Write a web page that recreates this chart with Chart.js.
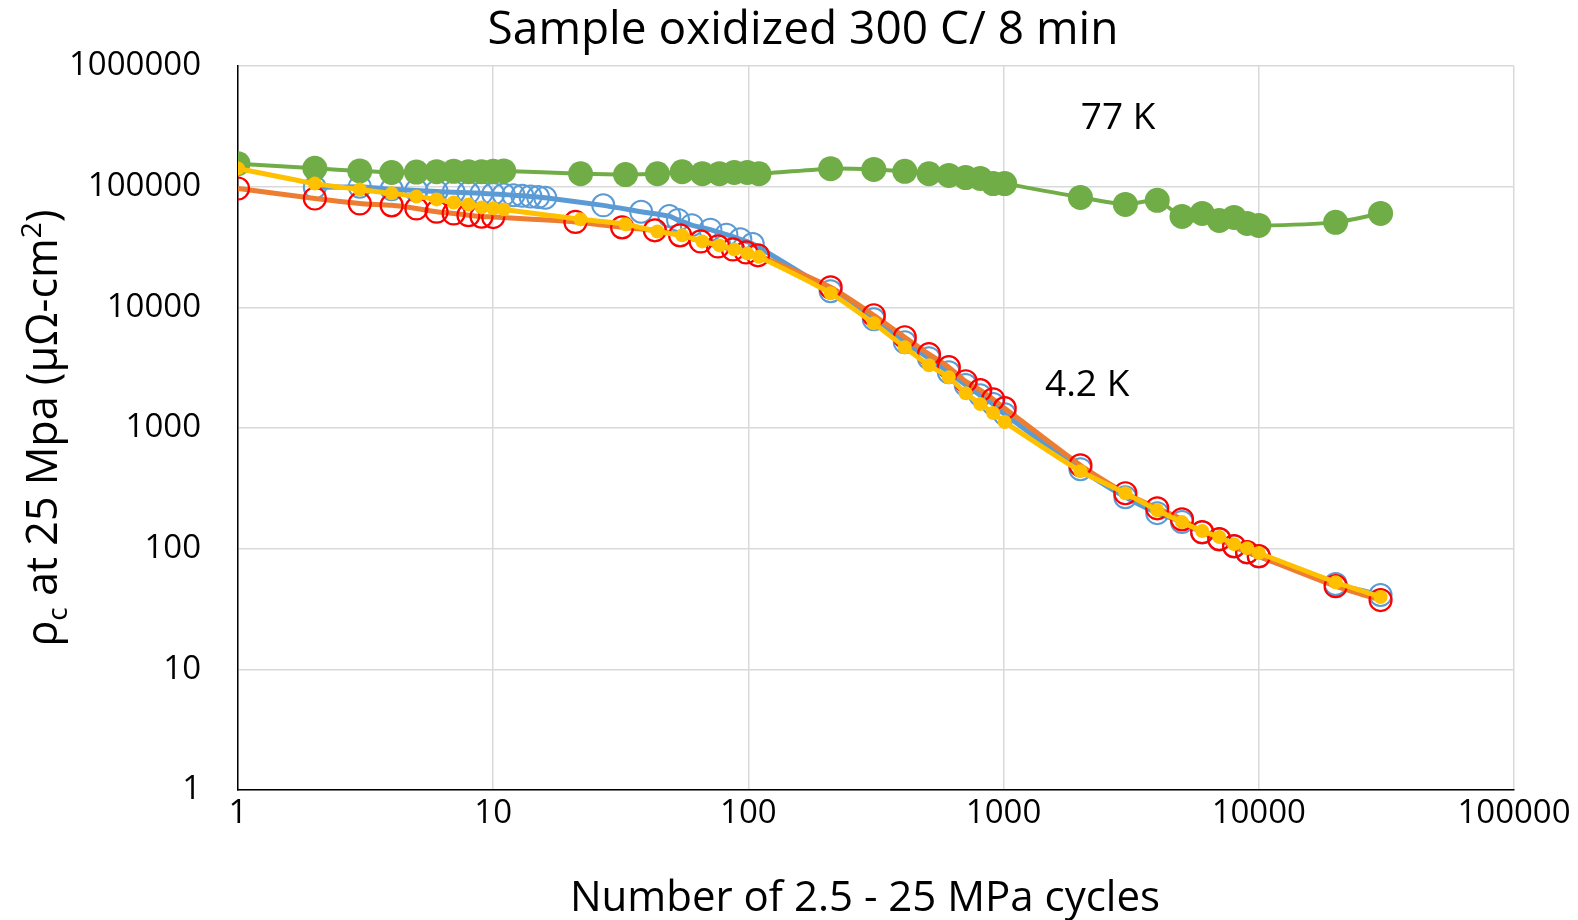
<!DOCTYPE html>
<html>
<head>
<meta charset="utf-8">
<script src="https://cdn.jsdelivr.net/npm/chart.js@4/dist/chart.umd.min.js"></script>
<style>
html,body{margin:0;padding:0;background:#fff;}
</style>
</head>
<body>
<canvas id="chart" width="1578" height="920"></canvas>
<script>
'use strict';
// tick labels
const xTicks = [1, 10, 100, 1000, 10000, 100000];
const yTicks = [1, 10, 100, 1000, 10000, 100000, 1000000];

// 77 K, filled green
const greenX = [1, 2, 3, 4, 5, 6, 7, 8, 9, 10, 11, 22, 33, 44, 55, 66, 77, 88, 99, 110,
	210, 310, 410, 510, 610, 710, 810, 910, 1010,
	2000, 3000, 4000, 5000, 6000, 7000, 8000, 9000, 10000, 20000, 30000];
const greenY = [155000, 142000, 135000, 131000, 132000, 133000, 134000, 133000, 133000, 134000, 135000,
	128000, 126000, 128000, 133000, 128000, 128000, 131000, 131000, 128000,
	141000, 139000, 134000, 128000, 124000, 119000, 117000, 106000, 106000,
	81500, 71300, 77000, 56600, 60000, 52500, 55600, 49500, 47700, 50600, 60000];

// 4.2 K, open blue
const blueX = [2, 3, 4, 5, 6, 7, 8, 9, 10, 11, 12, 13, 14, 15, 16,
	27, 38, 49, 53, 60, 71, 82, 93, 104,
	210, 310, 410, 510, 610, 710, 810, 910, 1010,
	2000, 3000, 4000, 5000, 6000, 7000, 8000, 9000, 10000, 20000, 30000];
const blueY = [98500, 100000, 95000, 93000, 91000, 90000, 89000, 88000, 87000, 86000, 85000, 84000, 83000, 82000, 81000,
	70000, 62000, 57000, 53000, 48000, 44000, 40000, 36600, 33500,
	13600, 7960, 5140, 3790, 2900, 2270, 1870, 1580, 1300,
	456, 267, 197, 166, 136, 119, 104, 93, 86, 51, 41.3];

// 4.2 K, open red on orange line
const redX = [1, 2, 3, 4, 5, 6, 7, 8, 9, 10, 21, 32, 43, 54, 65, 76, 87, 98, 109,
	210, 310, 410, 510, 610, 710, 810, 910, 1010,
	2000, 3000, 4000, 5000, 6000, 7000, 8000, 9000, 10000, 20000, 30000];
const redY = [96600, 79800, 72600, 70000, 66000, 62000, 60000, 58000, 56500, 56000,
	51000, 46000, 43500, 39500, 35200, 32000, 30200, 28500, 27000,
	14650, 8600, 5650, 4090, 3190, 2440, 2060, 1730, 1460,
	491, 288, 216, 175, 137, 120, 105, 93.5, 86.7, 48.9, 37.5];

// 4.2 K, small filled yellow
const yellowX = [1, 2, 3, 4, 5, 6, 7, 8, 9, 10, 11, 22, 33, 44, 55, 66, 77, 88, 99, 110,
	210, 310, 410, 510, 610, 710, 810, 910, 1010,
	2000, 3000, 4000, 5000, 6000, 7000, 8000, 9000, 10000, 20000, 30000];
const yellowY = [141700, 106000, 94800, 88000, 83000, 78400, 74000, 71200, 67300, 66100, 64800,
	53600, 48800, 42500, 39500, 35200, 32600, 30200, 28000, 26200,
	13070, 7380, 4670, 3310, 2630, 1940, 1580, 1330, 1120,
	439, 288, 208, 166, 140, 125, 109, 101, 92, 52.7, 39.8];

const noteText = ['77 K', '4.2 K'];
const noteX = [2810, 2125];
const noteY = [367000, 2260];

const titleText = 'Sample oxidized 300 C/ 8 min';
const xTitle = 'Number of 2.5 - 25 MPa cycles';

const pts = (xs, ys) => xs.map((x, i) => ({x: x, y: ys[i]}));
const font = '"Open Sans", sans-serif';

const extraText = {
	id: 'extraText',
	afterDraw: (chart) => {
		const ctx = chart.ctx, sx = chart.scales.x, sy = chart.scales.y;
		ctx.save();
		ctx.fillStyle = '#000';
		ctx.textAlign = 'center';
		ctx.textBaseline = 'middle';

		ctx.font = '46px ' + font;
		ctx.fillText(titleText, 803, 31);

		ctx.font = '42px ' + font;
		ctx.fillText(xTitle, 865, 899);

		ctx.font = '37px ' + font;
		noteText.forEach((t, i) => ctx.fillText(t, sx.getPixelForValue(noteX[i]), sy.getPixelForValue(noteY[i])));

		// y title with sub/superscript
		const parts = [
			{t: 'ρ', s: 43, d: 0},
			{t: 'c', s: 28, d: 10},
			{t: ' at 25 Mpa (µΩ-cm', s: 43, d: 0},
			{t: '2', s: 28, d: -16},
			{t: ')', s: 43, d: 0}
		];
		let w = 0;
		parts.forEach(p => { ctx.font = p.s + 'px ' + font; p.w = ctx.measureText(p.t).width; w += p.w; });
		ctx.translate(42, 428);
		ctx.rotate(-Math.PI / 2);
		ctx.textAlign = 'left';
		ctx.textBaseline = 'alphabetic';
		let cx = -w / 2;
		parts.forEach(p => {
			ctx.font = p.s + 'px ' + font;
			ctx.fillText(p.t, cx, 15 + p.d);
			cx += p.w;
		});
		ctx.restore();
	}
};

const ctx = document.getElementById('chart').getContext('2d');
const chart = new Chart(ctx, {
	type: 'line',
	data: {
		datasets: [{
			label: 'blue',
			data: pts(blueX, blueY),
			borderColor: '#5B9BD5',
			borderWidth: 5,
			pointRadius: 11,
			pointBorderWidth: 2,
			pointBackgroundColor: 'rgba(0,0,0,0)',
			pointBorderColor: '#5B9BD5',
			tension: 0.2,
			order: 4
		}, {
			label: 'red',
			data: pts(redX, redY),
			borderColor: '#ED7D31',
			borderWidth: 5,
			pointRadius: 11,
			pointBorderWidth: 2.2,
			pointBackgroundColor: 'rgba(0,0,0,0)',
			pointBorderColor: '#FF0000',
			tension: 0.2,
			order: 3
		}, {
			label: 'green',
			data: pts(greenX, greenY),
			borderColor: '#70AD47',
			borderWidth: 4,
			pointRadius: 12.5,
			pointBorderWidth: 0,
			pointBackgroundColor: '#70AD47',
			tension: 0.2,
			order: 2
		}, {
			label: 'yellow',
			data: pts(yellowX, yellowY),
			borderColor: '#FFC000',
			borderWidth: 5,
			pointRadius: 7,
			pointBorderWidth: 0,
			pointBackgroundColor: '#FFC000',
			tension: 0.2,
			order: 1
		}]
	},
	options: {
		responsive: false,
		animation: false,
		devicePixelRatio: 1,
		layout: {padding: {left: 0, right: 64, top: 66, bottom: 0}},
		plugins: {
			legend: {display: false},
			tooltip: {enabled: false},
			title: {display: false}
		},
		scales: {
			x: {
				type: 'logarithmic',
				min: 1,
				max: 100000,
				afterBuildTicks: (s) => { s.ticks = xTicks.map(v => ({value: v})); },
				afterFit: (s) => { s.height = 130; },
				ticks: {
					autoSkip: false,
					maxRotation: 0,
					padding: 4,
					color: '#000',
					font: {family: font, size: 33},
					callback: (v) => String(v)
				},
				grid: {color: '#D9D9D9', lineWidth: 1.5, drawTicks: false},
				border: {color: '#000', width: 1.5}
			},
			y: {
				type: 'logarithmic',
				min: 1,
				max: 1000000,
				afterBuildTicks: (s) => { s.ticks = yTicks.map(v => ({value: v})); },
				afterFit: (s) => { s.width = 238; },
				ticks: {
					autoSkip: false,
					padding: 37,
					color: '#000',
					font: {family: font, size: 33},
					callback: (v) => String(v)
				},
				grid: {color: '#D9D9D9', lineWidth: 1.5, drawTicks: false},
				border: {color: '#000', width: 1.5}
			}
		}
	},
	plugins: [extraText]
});
</script>
</body>
</html>
